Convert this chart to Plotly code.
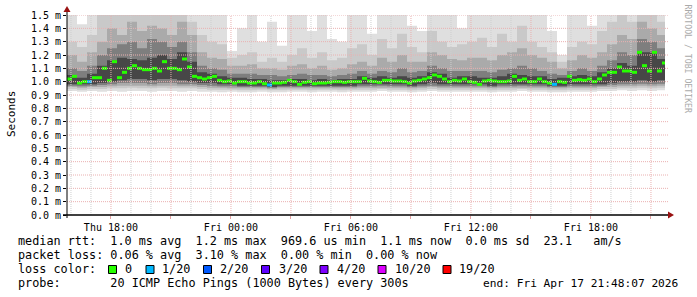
import pandas as pd
import plotly.graph_objects as go

# ---------------- data ----------------
START = "2026-04-16 15:48:07"
END = "2026-04-17 21:48:07"
DATA_END = "2026-04-17 21:42:07"

# smoke bands: 60 bins of 30 minutes (lightest layer A ... darkest layer E)
HI_A = [1.50, 1.43, 1.50, 1.50, 1.50, 1.50, 1.50, 1.50, 1.50, 1.50, 1.50, 1.50, 1.50,
        1.50, 1.50, 1.50, 1.23, 1.40, 1.50, 1.30, 1.45, 1.27, 1.50, 1.50, 1.38, 1.50, 1.32, 1.30, 1.50,
        1.50, 1.36, 1.50, 1.50, 1.50, 1.42, 1.38, 1.50, 1.50, 1.50, 1.40, 1.50,
        1.50, 1.50, 1.50, 1.50, 1.50, 1.50, 1.50, 1.38, 1.20, 1.50, 1.50, 1.42,
        1.50, 1.50, 1.50, 1.50, 1.50, 1.50, 1.50]
HI_B = [1.30, 1.26, 1.35, 1.50, 1.50, 1.50, 1.50, 1.50, 1.50, 1.50, 1.50, 1.50, 1.45,
        1.35, 1.30, 1.28, 1.18, 1.20, 1.22, 1.15, 1.18, 1.15, 1.20, 1.25, 1.18, 1.22, 1.16, 1.18, 1.25,
        1.28, 1.20, 1.32, 1.25, 1.36, 1.26, 1.22, 1.38, 1.30, 1.26, 1.28, 1.30,
        1.33, 1.26, 1.36, 1.30, 1.42, 1.30, 1.26, 1.22, 1.15, 1.26, 1.30, 1.28,
        1.38, 1.45, 1.50, 1.45, 1.50, 1.50, 1.45]
HI_C = [1.20, 1.15, 1.22, 1.30, 1.40, 1.35, 1.45, 1.38, 1.42, 1.40, 1.35, 1.45, 1.35,
        1.22, 1.18, 1.17, 1.12, 1.12, 1.13, 1.10, 1.10, 1.09, 1.12, 1.13, 1.10, 1.12, 1.09, 1.10, 1.13,
        1.15, 1.12, 1.18, 1.15, 1.20, 1.15, 1.15, 1.22, 1.20, 1.17, 1.16, 1.18,
        1.18, 1.16, 1.20, 1.22, 1.25, 1.20, 1.18, 1.15, 1.10, 1.16, 1.20, 1.18,
        1.22, 1.28, 1.35, 1.32, 1.45, 1.40, 1.35]
HI_D = [1.10, 1.08, 1.12, 1.20, 1.25, 1.28, 1.30, 1.25, 1.32, 1.30, 1.26, 1.30, 1.22,
        1.12, 1.10, 1.09, 1.06, 1.06, 1.06, 1.05, 1.05, 1.04, 1.05, 1.06, 1.05, 1.05, 1.04, 1.05, 1.06,
        1.08, 1.06, 1.08, 1.07, 1.10, 1.07, 1.08, 1.12, 1.10, 1.08, 1.08, 1.08,
        1.08, 1.07, 1.09, 1.10, 1.12, 1.10, 1.08, 1.06, 1.05, 1.08, 1.10, 1.08,
        1.12, 1.16, 1.22, 1.20, 1.32, 1.30, 1.25]
HI_E = [1.05, 1.03, 1.06, 1.12, 1.16, 1.18, 1.17, 1.16, 1.18, 1.20, 1.17, 1.22, 1.15,
        1.07, 1.06, 1.04, 1.03, 1.03, 1.02, 1.02, 1.01, 1.01, 1.02, 1.02, 1.01, 1.02, 1.01, 1.02, 1.02,
        1.04, 1.03, 1.04, 1.03, 1.04, 1.03, 1.04, 1.07, 1.06, 1.03, 1.04, 1.04,
        1.03, 1.03, 1.04, 1.06, 1.05, 1.04, 1.04, 1.02, 1.03, 1.04, 1.05, 1.04,
        1.07, 1.10, 1.14, 1.12, 1.22, 1.22, 1.17]
LO_E = [0.98, 0.98, 0.98, 0.99, 1.00, 1.01, 1.02, 1.02, 1.01, 1.02, 1.02, 1.01, 1.00,
        0.99, 0.99, 0.98, 0.98, 0.97, 0.97, 0.97, 0.96, 0.97, 0.97, 0.97, 0.97, 0.97, 0.97, 0.97, 0.97,
        0.98, 0.98, 0.98, 0.98, 0.98, 0.97, 0.98, 0.99, 0.98, 0.98, 0.98, 0.98,
        0.98, 0.97, 0.98, 0.98, 0.98, 0.98, 0.98, 0.97, 0.97, 0.98, 0.98, 0.98,
        0.98, 0.99, 1.00, 1.00, 1.01, 1.00, 1.01]
LO_D = [0.97, 0.965, 0.97, 0.975, 0.98, 0.99, 0.99, 0.99, 0.98, 0.99, 0.99, 0.98, 0.98,
        0.975, 0.97, 0.965, 0.965, 0.96, 0.96, 0.96, 0.955, 0.96, 0.96, 0.96, 0.96, 0.96, 0.96, 0.96, 0.96,
        0.965, 0.965, 0.97, 0.965, 0.965, 0.96, 0.965, 0.97, 0.965, 0.965, 0.965, 0.965,
        0.965, 0.96, 0.965, 0.965, 0.97, 0.965, 0.965, 0.96, 0.96, 0.965, 0.965, 0.965,
        0.97, 0.975, 0.98, 0.98, 0.985, 0.98, 0.985]
LO_C = [0.96, 0.955, 0.96, 0.96, 0.965, 0.97, 0.97, 0.97, 0.965, 0.97, 0.97, 0.965, 0.965,
        0.96, 0.955, 0.955, 0.95, 0.95, 0.95, 0.95, 0.945, 0.95, 0.95, 0.95, 0.95, 0.95, 0.95, 0.95, 0.95,
        0.955, 0.955, 0.955, 0.955, 0.955, 0.95, 0.955, 0.96, 0.955, 0.955, 0.955, 0.955,
        0.955, 0.95, 0.955, 0.955, 0.955, 0.955, 0.955, 0.95, 0.95, 0.955, 0.955, 0.955,
        0.96, 0.96, 0.965, 0.965, 0.97, 0.965, 0.97]
LO_B = [0.945, 0.94, 0.945, 0.945, 0.95, 0.95, 0.955, 0.95, 0.95, 0.955, 0.95, 0.95, 0.95,
        0.945, 0.94, 0.94, 0.94, 0.935, 0.935, 0.94, 0.935, 0.935, 0.94, 0.94, 0.935, 0.94, 0.94, 0.935, 0.94,
        0.94, 0.94, 0.945, 0.94, 0.94, 0.935, 0.94, 0.945, 0.94, 0.94, 0.94, 0.94,
        0.94, 0.935, 0.94, 0.94, 0.945, 0.94, 0.94, 0.935, 0.935, 0.94, 0.94, 0.94,
        0.945, 0.945, 0.95, 0.95, 0.955, 0.95, 0.955]
LO_A = [0.93, 0.925, 0.93, 0.925, 0.93, 0.925, 0.93, 0.93, 0.925, 0.93, 0.93, 0.925, 0.93,
        0.925, 0.925, 0.92, 0.925, 0.92, 0.92, 0.925, 0.92, 0.92, 0.925, 0.925, 0.92, 0.925, 0.925, 0.92, 0.925,
        0.925, 0.925, 0.93, 0.925, 0.925, 0.92, 0.925, 0.93, 0.925, 0.925, 0.925, 0.925,
        0.925, 0.92, 0.925, 0.925, 0.93, 0.925, 0.925, 0.92, 0.92, 0.925, 0.925, 0.925,
        0.93, 0.93, 0.935, 0.93, 0.935, 0.93, 0.935]

# median rtt (ms): 120 bins of 15 minutes
MEDIAN = [1.02, 1.04, 0.99, 1.00, 1.00, 1.03, 1.03, 1.10, 1.01, 1.15,
          1.03, 1.07, 1.10, 1.12, 1.10, 1.09, 1.09, 1.10, 1.08, 1.15,
          1.10, 1.10, 1.09, 1.17, 1.11, 1.04, 1.03, 1.02, 1.03, 1.04,
          1.01, 1.00, 1.005, 0.99, 1.00, 1.00, 0.99, 0.99, 1.00, 0.985,
          0.975, 0.99, 0.99, 0.995, 1.01, 1.00, 0.98, 0.995, 1.00, 0.985,
          0.99, 0.99, 0.995, 1.00, 1.00, 0.995, 1.00, 1.00, 1.00, 1.025,
          1.005, 1.00, 0.995, 1.01, 1.01, 1.005, 1.005, 1.00, 0.99, 1.005,
          1.01, 1.02, 1.03, 1.05, 1.04, 1.02, 1.00, 1.01, 1.005, 1.02,
          1.00, 0.995, 0.98, 1.005, 1.01, 1.005, 1.00, 1.00, 1.005, 1.04,
          1.01, 1.02, 1.00, 1.00, 1.02, 1.00, 0.99, 0.98, 1.00, 0.995,
          1.04, 1.01, 1.015, 1.01, 1.02, 1.00, 1.02, 1.05, 1.07, 1.07,
          1.11, 1.08, 1.08, 1.07, 1.22, 1.12, 1.08, 1.22, 1.08, 1.14]
LOSS_1_20_BINS = [4, 40, 97]

Y_TICKS = [0.0, 0.1, 0.2, 0.3, 0.4, 0.5, 0.6, 0.7, 0.8, 0.9, 1.0, 1.1, 1.2, 1.3, 1.4, 1.5]
Y_TICK_LABELS = ["0.0 m", "0.1 m", "0.2 m", "0.3 m", "0.4 m", "0.5 m", "0.6 m", "0.7 m",
                 "0.8 m", "0.9 m", "1.0 m", "1.1 m", "1.2 m", "1.3 m", "1.4 m", "1.5 m"]
X_TICKS = ["2026-04-16 18:00", "2026-04-16 21:00", "2026-04-17 00:00", "2026-04-17 03:00",
           "2026-04-17 06:00", "2026-04-17 09:00", "2026-04-17 12:00", "2026-04-17 15:00",
           "2026-04-17 18:00", "2026-04-17 21:00"]
X_TICK_LABELS = ["Thu 18:00", "", "Fri 00:00", "", "Fri 06:00", "", "Fri 12:00", "",
                 "Fri 18:00", ""]

LINE1 = "median rtt:  1.0 ms avg  1.2 ms max  969.6 us min  1.1 ms now  0.0 ms sd  23.1   am/s"
LINE2 = "packet loss: 0.06 % avg  3.10 % max  0.00 % min  0.00 % now"
LINE4 = "probe:       20 ICMP Echo Pings (1000 Bytes) every 300s"
END_TEXT = "end: Fri Apr 17 21:48:07 2026"
LOSS_LABELS = ["0", "1/20", "2/20", "3/20", "4/20", "10/20", "19/20"]
LOSS_COLORS = ["#26ff00", "#00b8ff", "#0059ff", "#5e00ff", "#7e00ff", "#dd00ff", "#ff0000"]

# ---------------- figure ----------------
MONO = "DejaVu Sans Mono"
fig = go.Figure()

smoke_edges = list(pd.date_range(START, periods=61, freq="30min"))
smoke_edges[-1] = pd.Timestamp(DATA_END)
med_edges = list(pd.date_range(START, periods=121, freq="15min"))
med_edges[-1] = pd.Timestamp(DATA_END)

layers = [(LO_A, HI_A, "#dfdfdf"), (LO_B, HI_B, "#c9c9c9"), (LO_C, HI_C, "#aaaaaa"),
          (LO_D, HI_D, "#7e7e7e"), (LO_E, HI_E, "#474747")]
for lo, hi, col in layers:
    fig.add_trace(go.Scatter(x=smoke_edges, y=lo + [lo[-1]], mode="lines",
                             line=dict(width=0, shape="hv"), hoverinfo="skip", showlegend=False))
    fig.add_trace(go.Scatter(x=smoke_edges, y=hi + [hi[-1]], mode="lines",
                             line=dict(width=0, shape="hv"), fill="tonexty", fillcolor=col,
                             hoverinfo="skip", showlegend=False))

gx, gy, bx, by = [], [], [], []
for i, m in enumerate(MEDIAN):
    if i in LOSS_1_20_BINS:
        bx += [med_edges[i], med_edges[i + 1], None]
        by += [m, m, None]
    else:
        gx += [med_edges[i], med_edges[i + 1], None]
        gy += [m, m, None]
fig.add_trace(go.Scatter(x=gx, y=gy, mode="lines", line=dict(color=LOSS_COLORS[0], width=3),
                         hoverinfo="skip", showlegend=False))
fig.add_trace(go.Scatter(x=bx, y=by, mode="lines", line=dict(color=LOSS_COLORS[1], width=3),
                         hoverinfo="skip", showlegend=False))

L, T, W, H = 67, 15, 600, 200


def px(x):
    return (x - L) / W


def py(y):
    return (T + H - y) / H


shapes = []
# horizontal grid (above the smoke, like rrdtool)
for v in Y_TICKS[1:]:
    shapes.append(dict(type="line", xref="paper", yref="y", x0=0, x1=1.002, y0=v, y1=v,
                       line=dict(color="#eab0b0", width=1, dash="1px,1px"), layer="above"))
# vertical grid: every hour, major every 3 hours
for t in pd.date_range("2026-04-16 16:00", "2026-04-17 21:00", freq="1h"):
    major = t.hour % 3 == 0
    shapes.append(dict(type="line", xref="x", yref="y", x0=t, x1=t, y0=0, y1=1.5,
                       line=dict(color="#eab0b0" if major else "#cfcfcf", width=1, dash="1px,1px"),
                       layer="above"))
# axes with arrows
shapes.append(dict(type="line", xref="paper", yref="paper", x0=px(63), x1=px(669), y0=0, y1=0,
                   line=dict(color="black", width=1.5), layer="above"))
shapes.append(dict(type="line", xref="paper", yref="paper", x0=0, x1=0, y0=py(218), y1=py(11),
                   line=dict(color="black", width=1), layer="above"))
shapes.append(dict(type="path", xref="paper", yref="paper",
                   path=f"M {px(668)},{py(211.5)} L {px(674)},{py(215)} L {px(668)},{py(218.5)} Z",
                   fillcolor="#991111", line=dict(width=0), layer="above"))
shapes.append(dict(type="path", xref="paper", yref="paper",
                   path=f"M {px(63.5)},{py(12)} L {px(67)},{py(6)} L {px(70.5)},{py(12)} Z",
                   fillcolor="#991111", line=dict(width=0), layer="above"))

annotations = []


def nb(s):
    return s.replace(" ", "\u00a0")


def text(s, x, y, size=11.8, anchor="left", color="black", angle=0):
    annotations.append(dict(text=nb(s), xref="paper", yref="paper", x=px(x), y=py(y),
                            xanchor=anchor, yanchor="middle", showarrow=False, textangle=angle,
                            font=dict(family=MONO, size=size, color=color)))


text(LINE1, 16, 241)
text(LINE2, 16, 255)
text("loss color:", 16, 269)
text(LINE4, 16, 283)
text(END_TEXT, 680.5, 283, size=11.2, anchor="right")
text("Seconds", 11, 114, size=11, anchor="center", angle=-90)
text("RRDTOOL / TOBI OETIKER", 687.5, 59, size=8.2, anchor="center", color="#aaaaaa", angle=90)

box_x = [108.5, 146, 203.5, 261.5, 320, 378, 443]
label_x = [123, 160, 218, 276.5, 334.5, 392.5, 457]
for bxp, lxp, lab, col in zip(box_x, label_x, LOSS_LABELS, LOSS_COLORS):
    shapes.append(dict(type="rect", xref="paper", yref="paper", x0=px(bxp), x1=px(bxp + 8),
                       y0=py(273.5), y1=py(265.5), fillcolor=col,
                       line=dict(color="black", width=1), layer="above"))
    text(lab, lxp, 269)

fig.update_layout(
    width=697, height=297,
    margin=dict(l=L, r=697 - L - W, t=T, b=297 - T - H, autoexpand=False),
    paper_bgcolor="white", plot_bgcolor="white", showlegend=False,
    shapes=shapes, annotations=annotations,
    xaxis=dict(type="date", range=[START, END], showgrid=False, zeroline=False, showline=False,
               tickmode="array", tickvals=X_TICKS, ticktext=X_TICK_LABELS,
               ticks="outside", ticklen=3, tickcolor="#e4a0a0", tickwidth=1,
               tickfont=dict(family=MONO, size=10, color="black")),
    yaxis=dict(range=[0, 1.5], showgrid=False, zeroline=False, showline=False,
               tickmode="array", tickvals=Y_TICKS, ticktext=Y_TICK_LABELS,
               ticks="outside", ticklen=3, tickcolor="black", tickwidth=1,
               tickfont=dict(family=MONO, size=10, color="black")),
)

fig.write_html("out.html")
